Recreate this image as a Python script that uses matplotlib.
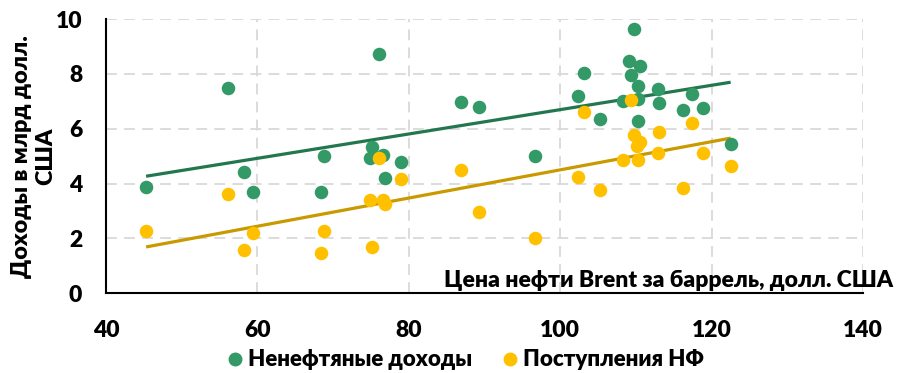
import numpy as np
import matplotlib
matplotlib.use("Agg")
import matplotlib.pyplot as plt
from matplotlib.lines import Line2D

# Brent price (USD/bbl) and revenues (bn USD)
brent_nonoil = [45.3, 56.1, 58.2, 59.4, 68.4, 68.8, 74.9, 75.1, 76.1, 76.6, 76.8,
                78.9, 86.9, 89.2, 96.7, 102.4, 103.1, 105.2, 108.3, 109.1, 109.4,
                109.7, 110.3, 110.3, 110.5, 110.3, 112.9, 113.1, 116.2, 117.4,
                118.8, 122.5]
nonoil_revenue = [3.88, 7.50, 4.42, 3.70, 3.71, 5.00, 4.94, 5.33, 8.73, 5.06, 4.21,
                  4.79, 6.99, 6.80, 5.00, 7.18, 8.03, 6.36, 7.00, 8.48, 7.97,
                  9.64, 7.07, 7.56, 8.27, 6.28, 7.45, 6.93, 6.69, 7.25,
                  6.75, 5.45]

brent_fund = [45.3, 56.1, 58.2, 59.4, 68.4, 68.8, 74.9, 75.1, 76.0, 76.55, 76.8,
              78.9, 86.9, 89.2, 96.7, 102.4, 103.1, 105.2, 108.3, 109.3, 109.7,
              110.1, 110.3, 110.5, 112.9, 113.1, 116.2, 117.4, 118.8, 122.5]
fund_inflows = [2.28, 3.62, 1.59, 2.21, 1.46, 2.29, 3.39, 1.70, 4.94, 3.39, 3.25,
                4.17, 4.48, 2.95, 2.03, 4.23, 6.60, 3.77, 4.87, 7.04, 5.76,
                5.37, 4.87, 5.52, 5.11, 5.89, 3.84, 6.22, 5.12, 4.63]

series_names = ["Ненефтяные доходы", "Поступления НФ"]
x_ticks = [40, 60, 80, 100, 120, 140]
y_ticks = [0, 2, 4, 6, 8, 10]

GREEN = "#339966"
GREEN_LINE = "#23774F"
YELLOW = "#FFC000"
YELLOW_LINE = "#C99A00"

FONT = ["Lato", "DejaVu Sans"]
WEIGHT = "heavy"
plt.rcParams["font.family"] = FONT
plt.rcParams["font.weight"] = WEIGHT

fig = plt.figure(figsize=(9.01, 3.73), dpi=100)
ax = fig.add_axes([0.1176, 0.2135, 0.8404, 0.7355])

ax.set_xlim(40, 140)
ax.set_ylim(0, 10)
ax.set_xticks(x_ticks)
ax.set_yticks(y_ticks)
ax.set_xticklabels([str(v) for v in x_ticks], fontsize=16.5, fontweight=WEIGHT)
ax.set_yticklabels([str(v) for v in y_ticks], fontsize=16.5, fontweight=WEIGHT)
ax.tick_params(axis="both", length=0)
ax.tick_params(axis="y", pad=17)
ax.tick_params(axis="x", pad=19)

ax.grid(True, color="#D9D9D9", linestyle=(0, (6, 4)), linewidth=1.3)
ax.set_axisbelow(True)
for side in ("top", "right"):
    ax.spines[side].set_visible(False)
for side in ("left", "bottom"):
    ax.spines[side].set_color("black")
    ax.spines[side].set_linewidth(1.5)

# scatter points
ax.scatter(brent_nonoil, nonoil_revenue, s=95, color=GREEN, zorder=3, linewidths=0)
ax.scatter(brent_fund, fund_inflows, s=95, color=YELLOW, zorder=3, linewidths=0)

# linear trend lines over the observed price range
for xs, ys, col in ((brent_nonoil, nonoil_revenue, GREEN_LINE),
                    (brent_fund, fund_inflows, YELLOW_LINE)):
    k, b = np.polyfit(xs, ys, 1)
    xr = np.array([min(xs), max(xs)])
    ax.plot(xr, k * xr + b, color=col, linewidth=2.3, zorder=2, solid_capstyle="butt")

ax.set_ylabel("Доходы в млрд долл.\nСША", fontsize=16.8, fontweight=WEIGHT,
              linespacing=1.15, labelpad=2)
ax.yaxis.set_label_coords(-0.066, 0.5)

fig.text(0.991, 0.248, "Цена нефти Brent за баррель, долл. США", ha="right",
         va="center", fontsize=16.5, fontweight=WEIGHT)

handles = [Line2D([], [], marker="o", linestyle="none", color=GREEN, markersize=9),
           Line2D([], [], marker="o", linestyle="none", color=YELLOW, markersize=9)]
fig.legend(handles, series_names, loc="center", bbox_to_anchor=(0.515, 0.035),
           ncol=2, frameon=False, prop={"family": FONT, "weight": WEIGHT, "size": 16},
           handletextpad=0.1, columnspacing=1.2, handlelength=1.0)

fig.savefig("out.png", dpi=100)
